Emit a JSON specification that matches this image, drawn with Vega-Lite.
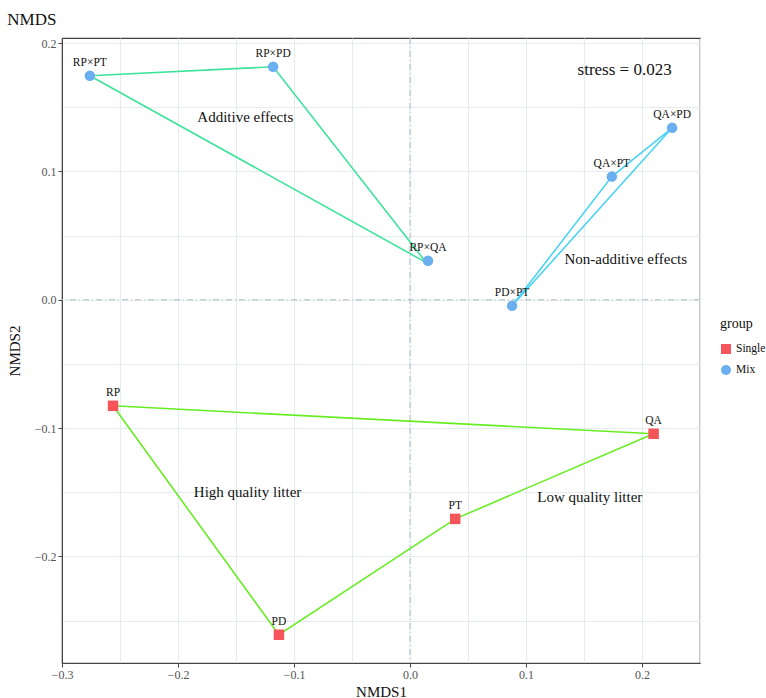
{
  "$schema": "https://vega.github.io/schema/vega-lite/v6.json",
  "width": 638,
  "height": 625,
  "autosize": {"type": "none"},
  "padding": {"left": 62, "top": 38, "right": 66, "bottom": 35},
  "background": "white",
  "title": {"text": "NMDS", "anchor": "start", "font": "'Liberation Serif', 'DejaVu Serif', serif", "fontSize": 17, "fontWeight": "normal", "color": "#111", "offset": 8},
  "config": {
    "view": {"stroke": "#444", "strokeWidth": 1.2},
    "font": "'Liberation Serif', 'DejaVu Serif', serif",
    "axis": {"labelFont": "'Liberation Serif', 'DejaVu Serif', serif", "titleFont": "'Liberation Serif', 'DejaVu Serif', serif", "labelColor": "#555", "labelFontSize": 12, "titleFontSize": 15, "titleFontWeight": "normal", "titleColor": "#111", "domainColor": "#444", "tickColor": "#444", "gridColor": "#E5ECEF", "gridWidth": 1},
    "legend": {"labelFont": "'Liberation Serif', 'DejaVu Serif', serif", "titleFont": "'Liberation Serif', 'DejaVu Serif', serif"},
    "text": {"font": "'Liberation Serif', 'DejaVu Serif', serif"}
  },
  "datasets": {
    "pts": [
      {"name": "RP×PT", "NMDS1": -0.276, "NMDS2": 0.1746, "group": "Mix"},
      {"name": "RP×PD", "NMDS1": -0.118, "NMDS2": 0.1816, "group": "Mix"},
      {"name": "RP×QA", "NMDS1": 0.0155, "NMDS2": 0.0304, "group": "Mix"},
      {"name": "PD×PT", "NMDS1": 0.088, "NMDS2": -0.0047, "group": "Mix"},
      {"name": "QA×PT", "NMDS1": 0.174, "NMDS2": 0.096, "group": "Mix"},
      {"name": "QA×PD", "NMDS1": 0.226, "NMDS2": 0.134, "group": "Mix"},
      {"name": "RP", "NMDS1": -0.256, "NMDS2": -0.0826, "group": "Single"},
      {"name": "QA", "NMDS1": 0.21, "NMDS2": -0.1044, "group": "Single"},
      {"name": "PT", "NMDS1": 0.039, "NMDS2": -0.1707, "group": "Single"},
      {"name": "PD", "NMDS1": -0.113, "NMDS2": -0.261, "group": "Single"}
    ],
    "hulls": [
      {"hull": "Additive", "order": 1, "NMDS1": -0.276, "NMDS2": 0.1746},
      {"hull": "Additive", "order": 2, "NMDS1": -0.118, "NMDS2": 0.1816},
      {"hull": "Additive", "order": 3, "NMDS1": 0.0140, "NMDS2": 0.0290},
      {"hull": "Additive", "order": 4, "NMDS1": -0.276, "NMDS2": 0.1746},
      {"hull": "NonAdditive", "order": 1, "NMDS1": 0.088, "NMDS2": -0.0047},
      {"hull": "NonAdditive", "order": 2, "NMDS1": 0.174, "NMDS2": 0.096},
      {"hull": "NonAdditive", "order": 3, "NMDS1": 0.226, "NMDS2": 0.134},
      {"hull": "NonAdditive", "order": 4, "NMDS1": 0.088, "NMDS2": -0.0047},
      {"hull": "Single", "order": 1, "NMDS1": -0.256, "NMDS2": -0.0826},
      {"hull": "Single", "order": 2, "NMDS1": 0.21, "NMDS2": -0.1044},
      {"hull": "Single", "order": 3, "NMDS1": 0.039, "NMDS2": -0.1707},
      {"hull": "Single", "order": 4, "NMDS1": -0.113, "NMDS2": -0.261},
      {"hull": "Single", "order": 5, "NMDS1": -0.256, "NMDS2": -0.0826}
    ],
    "notes": [
      {"label": "Additive effects", "NMDS1": -0.142, "NMDS2": 0.1426, "size": 15},
      {"label": "Non-additive effects", "NMDS1": 0.186, "NMDS2": 0.032, "size": 15},
      {"label": "High quality litter", "NMDS1": -0.140, "NMDS2": -0.150, "size": 15},
      {"label": "Low quality litter", "NMDS1": 0.155, "NMDS2": -0.1535, "size": 15},
      {"label": "stress = 0.023", "NMDS1": 0.185, "NMDS2": 0.179, "size": 17}
    ]
  },
  "layer": [
    {
      "data": {"values": [{"v": 0}]},
      "mark": {"type": "rule", "color": "#A9BCC4", "strokeDash": [6, 3, 1, 3], "strokeWidth": 1},
      "encoding": {"x": {"field": "v", "type": "quantitative", "scale": {"domain": [-0.3, 0.25], "nice": false, "zero": false}}}
    },
    {
      "data": {"values": [{"v": 0}]},
      "mark": {"type": "rule", "color": "#A9BCC4", "strokeDash": [6, 3, 1, 3], "strokeWidth": 1},
      "encoding": {"y": {"field": "v", "type": "quantitative", "scale": {"domain": [-0.283, 0.204], "nice": false, "zero": false}}}
    },
    {
      "data": {"name": "hulls"},
      "mark": {"type": "line", "strokeWidth": 1.6},
      "encoding": {
        "x": {"field": "NMDS1", "type": "quantitative"},
        "y": {"field": "NMDS2", "type": "quantitative"},
        "order": {"field": "order", "type": "quantitative"},
        "detail": {"field": "hull"},
        "stroke": {"field": "hull", "type": "nominal", "scale": {"domain": ["Additive", "NonAdditive", "Single"], "range": ["#3EE39A", "#4CD3F7", "#66EE22"]}, "legend": null}
      }
    },
    {
      "data": {"name": "pts"},
      "mark": {"type": "point", "filled": true, "opacity": 1, "size": 110},
      "encoding": {
        "x": {"field": "NMDS1", "type": "quantitative", "title": "NMDS1", "scale": {"domain": [-0.3, 0.25], "nice": false, "zero": false},
          "axis": {"values": [-0.3, -0.25, -0.2, -0.15, -0.1, -0.05, 0, 0.05, 0.1, 0.15, 0.2, 0.25], "labelExpr": "abs(datum.value*10 - round(datum.value*10)) < 0.01 ? replace(format(datum.value, '.1f'), '-', '−') : ''", "tickSize": {"condition": {"test": "abs(datum.value*10 - round(datum.value*10)) < 0.01", "value": 4}, "value": 0}, "labelFlush": false, "titlePadding": 4}},
        "y": {"field": "NMDS2", "type": "quantitative", "title": "NMDS2", "scale": {"domain": [-0.283, 0.204], "nice": false, "zero": false},
          "axis": {"values": [-0.25, -0.2, -0.15, -0.1, -0.05, 0, 0.05, 0.1, 0.15, 0.2], "labelExpr": "abs(datum.value*10 - round(datum.value*10)) < 0.01 ? replace(format(datum.value, '.1f'), '-', '−') : ''", "tickSize": {"condition": {"test": "abs(datum.value*10 - round(datum.value*10)) < 0.01", "value": 4}, "value": 0}, "labelFlush": false, "titlePadding": 12}},
        "color": {"field": "group", "type": "nominal", "scale": {"domain": ["Single", "Mix"], "range": ["#F5555A", "#6AAFEF"]},
          "legend": {"title": "group", "orient": "none", "legendX": 658, "legendY": 279, "titleFontSize": 14, "titleFontWeight": "normal", "titleColor": "#111", "labelFontSize": 11.5, "labelColor": "#111", "symbolSize": 100, "padding": 0, "rowPadding": 9, "titlePadding": 12, "labelOffset": 4}},
        "shape": {"field": "group", "type": "nominal", "scale": {"domain": ["Single", "Mix"], "range": ["square", "circle"]}}
      }
    },
    {
      "data": {"name": "pts"},
      "mark": {"type": "text", "dy": -13, "fontSize": 11.5, "color": "#111"},
      "encoding": {
        "x": {"field": "NMDS1", "type": "quantitative"},
        "y": {"field": "NMDS2", "type": "quantitative"},
        "text": {"field": "name"}
      }
    },
    {
      "data": {"name": "notes"},
      "mark": {"type": "text", "color": "#111", "baseline": "middle"},
      "encoding": {
        "x": {"field": "NMDS1", "type": "quantitative"},
        "y": {"field": "NMDS2", "type": "quantitative"},
        "text": {"field": "label"},
        "size": {"field": "size", "type": "quantitative", "scale": null, "legend": null}
      }
    }
  ]
}
